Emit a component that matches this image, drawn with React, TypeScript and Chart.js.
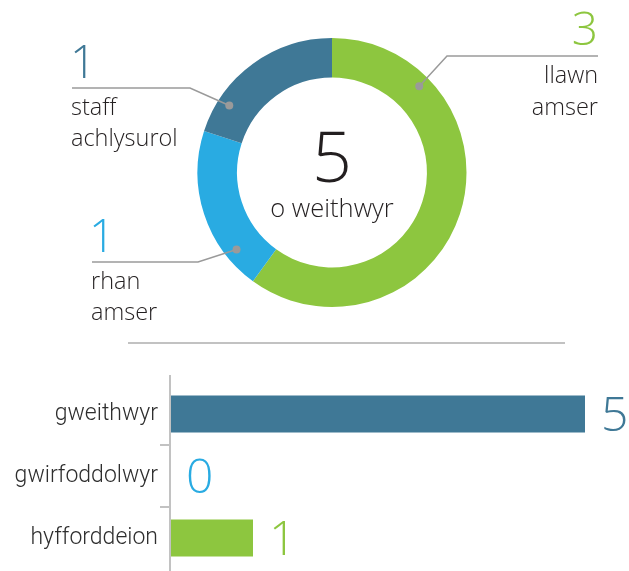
import React, { useEffect, useRef } from 'react';
import { Chart, registerables } from 'chart.js';

Chart.register(...registerables);

// ---- data ----
const donutCategories = ['llawn amser', 'rhan amser', 'staff achlysurol'];
const donutValues = [3, 1, 1];
const donutColors = ['#8dc63f', '#29abe2', '#3f7896'];
const centerCaption = 'o weithwyr';

const barCategories = ['gweithwyr', 'gwirfoddolwyr', 'hyfforddeion'];
const barValues = [5, 0, 1];
const barColors = ['#3f7896', '#29abe2', '#8dc63f'];

const THIN = '300';
const FONT = '"Open Sans", "DejaVu Sans", sans-serif';
const TEXT_DARK = '#231f20';
const LEADER = '#9a9a9a';

// annotation layout for donut callouts (per slice index)
const callouts = [
  { align: 'right', x: 598, numY: 45, lineY: 56, elbowX: 447, lineEnd: 598, textYs: [83, 115] },
  { align: 'left', x: 89, numY: 252, lineY: 262, elbowX: 198, lineEnd: 92, textYs: [289, 320] },
  { align: 'left', x: 70, numY: 78, lineY: 88, elbowX: 190, lineEnd: 72, textYs: [115, 146] },
];

const donutPlugin = {
  id: 'donutDecor',
  afterDraw(chart: any) {
    const ctx = chart.ctx;
    const meta = chart.getDatasetMeta(0);
    const total = donutValues.reduce((a, b) => a + b, 0);
    ctx.save();
    // center text
    const c = meta.data[0];
    ctx.fillStyle = TEXT_DARK;
    ctx.textAlign = 'center';
    ctx.textBaseline = 'alphabetic';
    ctx.font = `${THIN} 70px ${FONT}`;
    ctx.fillText(String(total), c.x, 182);
    ctx.font = `${THIN} 25.5px ${FONT}`;
    ctx.fillText(centerCaption, c.x, 217);

    meta.data.forEach((arc: any, i: number) => {
      const co = callouts[i];
      const ang = arc.startAngle + 0.21 * (arc.endAngle - arc.startAngle);
      const r = arc.innerRadius + 0.7 * (arc.outerRadius - arc.innerRadius);
      const dx = arc.x + Math.cos(ang) * r;
      const dy = arc.y + Math.sin(ang) * r;
      // leader line
      ctx.strokeStyle = LEADER;
      ctx.lineWidth = 1.5;
      ctx.beginPath();
      ctx.moveTo(dx, dy);
      ctx.lineTo(co.elbowX, co.lineY);
      ctx.lineTo(co.lineEnd, co.lineY);
      ctx.stroke();
      // dot
      ctx.fillStyle = LEADER;
      ctx.beginPath();
      ctx.arc(dx, dy, 4, 0, Math.PI * 2);
      ctx.fill();
      // number
      ctx.textAlign = co.align as CanvasTextAlign;
      ctx.fillStyle = donutColors[i];
      ctx.font = `${THIN} 46px ${FONT}`;
      ctx.fillText(String(donutValues[i]), co.x, co.numY);
      // label lines
      ctx.fillStyle = TEXT_DARK;
      ctx.font = `${THIN} 23.5px ${FONT}`;
      const words = donutCategories[i].split(' ');
      const tx = co.align === 'right' ? co.lineEnd : co.lineEnd - 1;
      words.forEach((w, k) => ctx.fillText(w, tx, co.textYs[k]));
    });

    // separator line
    ctx.strokeStyle = '#c2c2c2';
    ctx.lineWidth = 2;
    ctx.beginPath();
    ctx.moveTo(128, 343);
    ctx.lineTo(565, 343);
    ctx.stroke();
    ctx.restore();
  },
};

const barPlugin = {
  id: 'barDecor',
  afterDraw(chart: any) {
    const ctx = chart.ctx;
    const meta = chart.getDatasetMeta(0);
    const yScale = chart.scales.y;
    ctx.save();
    // axis line
    ctx.strokeStyle = '#c2c2c2';
    ctx.lineWidth = 2;
    ctx.beginPath();
    ctx.moveTo(yScale.right, 25);
    ctx.lineTo(yScale.right, chart.height);
    ctx.stroke();
    // value labels
    ctx.textAlign = 'left';
    ctx.textBaseline = 'alphabetic';
    ctx.font = `${THIN} 48px ${FONT}`;
    meta.data.forEach((bar: any, i: number) => {
      ctx.fillStyle = barColors[i];
      ctx.fillText(String(barValues[i]), bar.x + 16, bar.y + 17);
    });
    ctx.restore();
  },
};

export default function App() {
  const donutRef = useRef<HTMLCanvasElement>(null);
  const barRef = useRef<HTMLCanvasElement>(null);

  useEffect(() => {
    const donut = new Chart(donutRef.current as HTMLCanvasElement, {
      type: 'doughnut',
      data: {
        labels: donutCategories,
        datasets: [
          {
            data: donutValues,
            backgroundColor: donutColors,
            borderWidth: 0,
            hoverOffset: 0,
          },
        ],
      },
      options: {
        responsive: false,
        animation: false,
        cutout: '70.6%',
        layout: { padding: { left: 35, right: 0, top: 38, bottom: 43 } },
        plugins: { legend: { display: false }, tooltip: { enabled: false } },
        events: [],
      },
      plugins: [donutPlugin],
    });

    const bar = new Chart(barRef.current as HTMLCanvasElement, {
      type: 'bar',
      data: {
        labels: barCategories,
        datasets: [
          {
            data: barValues,
            backgroundColor: barColors,
            borderWidth: 0,
            barPercentage: 0.6,
            categoryPercentage: 1,
          },
        ],
      },
      options: {
        indexAxis: 'y',
        responsive: false,
        animation: false,
        layout: { padding: { left: 0, right: 44, top: 33, bottom: 2 } },
        plugins: { legend: { display: false }, tooltip: { enabled: false } },
        events: [],
        scales: {
          x: {
            display: false,
            min: 0,
            max: Math.max(...barValues),
          },
          y: {
            afterFit: (scale: any) => {
              scale.width = 170;
              scale.paddingTop = 0;
              scale.paddingBottom = 0;
            },
            border: { display: false },
            grid: {
              offset: true,
              drawOnChartArea: false,
              drawTicks: true,
              tickLength: 10,
              lineWidth: 2,
              color: (ctx: any) =>
                ctx.index === 1 || ctx.index === 2 ? '#c2c2c2' : 'rgba(0,0,0,0)',
            },
            ticks: {
              padding: 2,
              color: '#2e2e2e',
              font: { family: 'Roboto, "Liberation Sans", sans-serif', size: 23, weight: '300' },
            },
          },
        },
      },
      plugins: [barPlugin],
    });

    return () => {
      donut.destroy();
      bar.destroy();
    };
  }, []);

  return (
    <div style={{ position: 'absolute', left: 0, top: 0, width: 629, height: 571, background: '#fff' }}>
      <canvas ref={donutRef} width={629} height={350} style={{ display: 'block' }} />
      <canvas ref={barRef} width={629} height={221} style={{ display: 'block' }} />
    </div>
  );
}
